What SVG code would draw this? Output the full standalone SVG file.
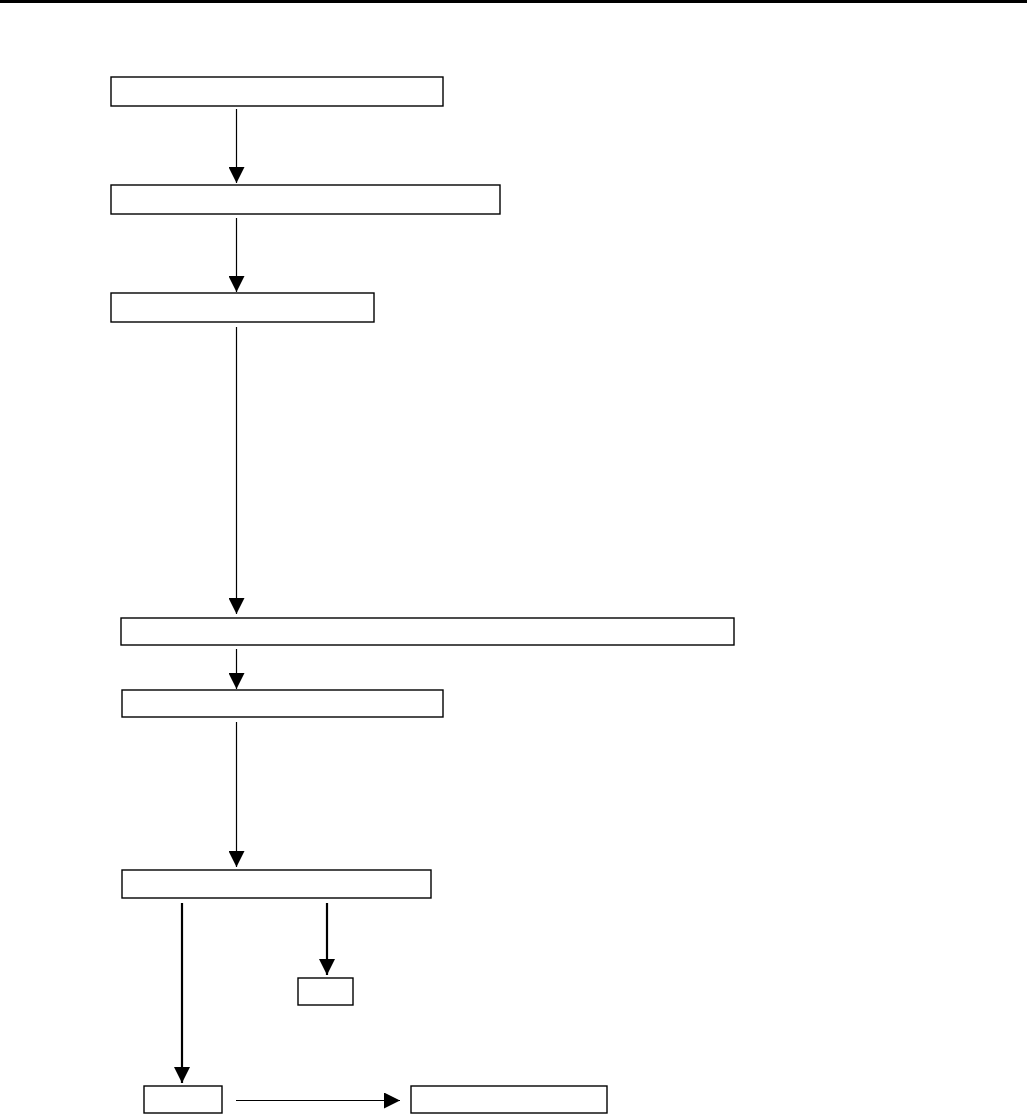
<svg xmlns="http://www.w3.org/2000/svg" width="1027" height="1114" viewBox="0 0 1027 1114">
<defs>
<style>
.box{fill:#fff;stroke:#000;stroke-width:1.4}
.ln{stroke:#000;stroke-width:1.2;fill:none}
.thk{stroke-width:2.2}
</style>
<marker id="ah" markerUnits="userSpaceOnUse" markerWidth="16" markerHeight="16" viewBox="0 0 15 15" refX="15" refY="7.5" orient="auto">
<path d="M0,0 L15,7.5 L0,15 Z" fill="#000"/>
</marker>
</defs>
<rect x="0" y="0" width="1027" height="3" fill="#000"/>
<g id="n1"><rect class="box" x="111" y="77" width="332" height="29"/></g>
<g id="n2"><rect class="box" x="111" y="185" width="389" height="29"/></g>
<g id="n3"><rect class="box" x="111" y="293" width="263" height="29"/></g>
<g id="n4"><rect class="box" x="121" y="618" width="613" height="27"/></g>
<g id="n5"><rect class="box" x="122" y="690" width="321" height="27"/></g>
<g id="n6"><rect class="box" x="122" y="870" width="309" height="28"/></g>
<g id="n7"><rect class="box" x="298" y="978" width="55" height="27"/></g>
<g id="n8"><rect class="box" x="144" y="1086" width="78" height="27"/></g>
<g id="n9"><rect class="box" x="411" y="1086" width="196" height="27"/></g>
<g id="connectors">
<line class="ln" x1="236.5" y1="109" x2="236.5" y2="183" marker-end="url(#ah)"/>
<line class="ln" x1="236.5" y1="218" x2="236.5" y2="292" marker-end="url(#ah)"/>
<line class="ln" x1="236.5" y1="327" x2="236.5" y2="614" marker-end="url(#ah)"/>
<line class="ln" x1="236.5" y1="649" x2="236.5" y2="689" marker-end="url(#ah)"/>
<line class="ln" x1="236.5" y1="722" x2="236.5" y2="867" marker-end="url(#ah)"/>
<line class="ln thk" x1="182" y1="903" x2="182" y2="1083" marker-end="url(#ah)"/>
<line class="ln thk" x1="327" y1="903" x2="327" y2="975" marker-end="url(#ah)"/>
<line class="ln" x1="236" y1="1100.5" x2="400" y2="1100.5" marker-end="url(#ah)"/>
</g>
</svg>
